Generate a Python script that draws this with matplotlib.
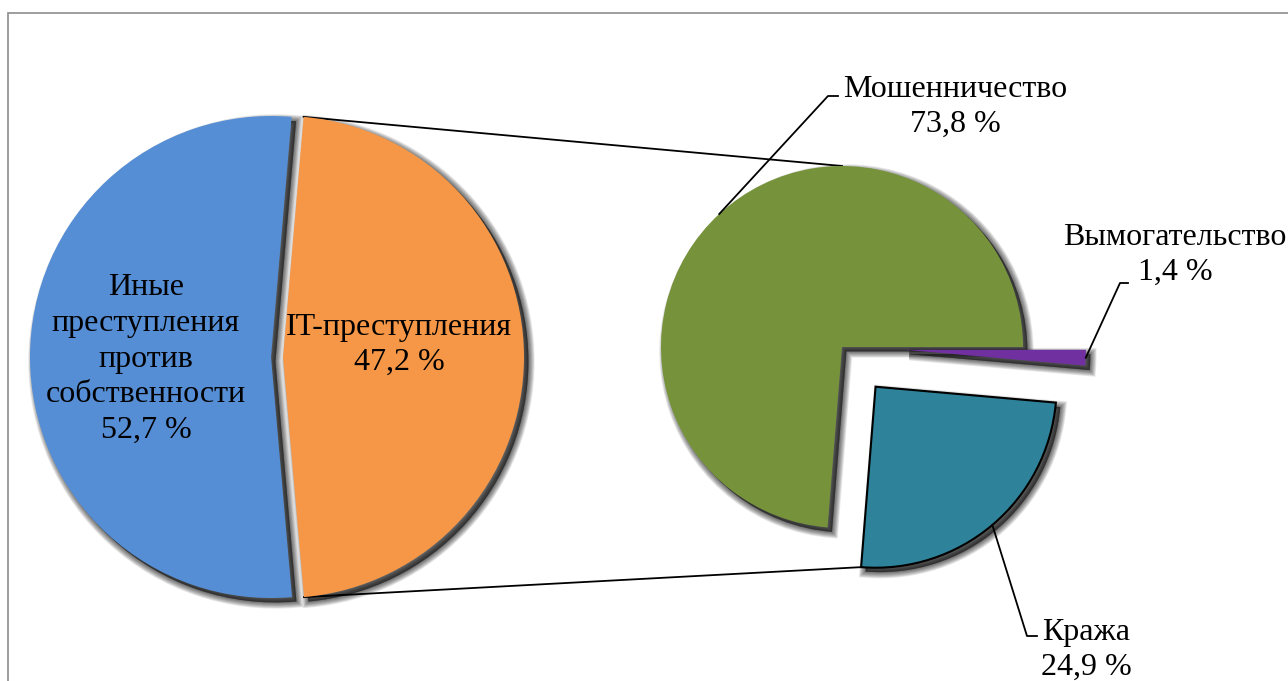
import numpy as np
import matplotlib.pyplot as plt
from matplotlib.patches import Shadow

# --- Data ---
main_labels = ['IT-преступления', 'Иные\nпреступления\nпротив\nсобственности']
main_values = [47.2, 52.7]
main_colors = ['#F59747', '#558ED5']

sub_labels = ['Мошенничество', 'Кража', 'Вымогательство']
sub_values = [73.8, 24.9, 1.4]
sub_colors = ['#76933C', '#2E8299', '#7030A0']

W, H = 1288, 681


def py(y):
    # image row -> data y
    return H - y


def pct(v):
    return f'{v:.1f}'.replace('.', ',') + ' %'


def add_shadows(ax, wedges):
    # soft shadow: stacked offset copies with growing outline
    for w in wedges:
        for lw in np.arange(9, -0.1, -1.0):
            ax.add_patch(Shadow(w, 3.2, -3.2, facecolor='black', edgecolor='black',
                                linewidth=lw, alpha=0.08, label='_nolegend_'))


def arc_point(w, ang):
    cx, cy = w.center
    return cx + w.r * np.cos(np.radians(ang)), cy + w.r * np.sin(np.radians(ang))


plt.rcParams['font.family'] = ['Liberation Serif', 'DejaVu Serif']

fig = plt.figure(figsize=(W / 100, H / 100), dpi=100)
ax = fig.add_axes([0, 0, 1, 1])

# frame (cut off at right and bottom as in the original)
ax.plot([8, 8, W + 5], [py(H + 5), py(13), py(13)], color='#8c8c8c', lw=1.2,
        solid_joinstyle='miter')

# --- main pie (explode given in pixels) ---
main_w, _ = ax.pie(main_values, colors=main_colors, center=(283, py(357)), radius=241,
                   startangle=-85, counterclock=True, explode=[0, 12],
                   wedgeprops=dict(linewidth=0), frame=True)
add_shadows(ax, main_w)

# --- secondary pie ---
sub_w, _ = ax.pie(sub_values, colors=sub_colors, center=(842, py(347)), radius=181,
                  startangle=0, counterclock=True, explode=[0, 52, 63],
                  wedgeprops=dict(linewidth=0), frame=True)
sub_w[1].set_edgecolor('black')
sub_w[1].set_linewidth(1.5)
add_shadows(ax, sub_w)

ax.set_xlim(0, W)
ax.set_ylim(0, H)
ax.set_aspect('equal')
ax.axis('off')

# series lines between the pies
orange = main_w[0]
green, teal, purple = sub_w
x0, y0 = arc_point(orange, orange.theta2)
x1, y1 = arc_point(green, 90)
ax.plot([x0, x1], [y0, y1], color='black', lw=1.3, zorder=0.5)
x0, y0 = arc_point(orange, orange.theta1)
x1, y1 = arc_point(teal, teal.theta1)
ax.plot([x0, x1], [y0, y1], color='black', lw=1.3, zorder=0.5)

fs = 23
ls = 1.3
# labels inside the main pie
ax.text(146, py(359), f'{main_labels[1]}\n{pct(main_values[1])}', ha='center', va='center',
        fontsize=fs, linespacing=ls)
ax.text(399, py(345), f'{main_labels[0]}\n{pct(main_values[0])}', ha='center', va='center',
        fontsize=fs, linespacing=ls)

# labels with leader lines for the secondary pie
label_pos = [(955, 107), (1086, 650), (1175, 255)]
elbows = [((828, 96), (838, 96)), ((1027, 636), (1037, 636)), ((1120, 283), (1128, 283))]
for w, lab, val, (tx, ty), (e1, e2) in zip(sub_w, sub_labels, sub_values, label_pos, elbows):
    mid = 0.5 * (w.theta1 + w.theta2)
    sx, sy = arc_point(w, mid)
    ax.plot([sx, e1[0], e2[0]], [sy, py(e1[1]), py(e2[1])], color='black', lw=1.3, zorder=5)
    ax.text(tx, py(ty), f'{lab}\n{pct(val)}', ha='center', va='center', fontsize=fs,
            linespacing=ls)

fig.savefig('out.png', dpi=100)
